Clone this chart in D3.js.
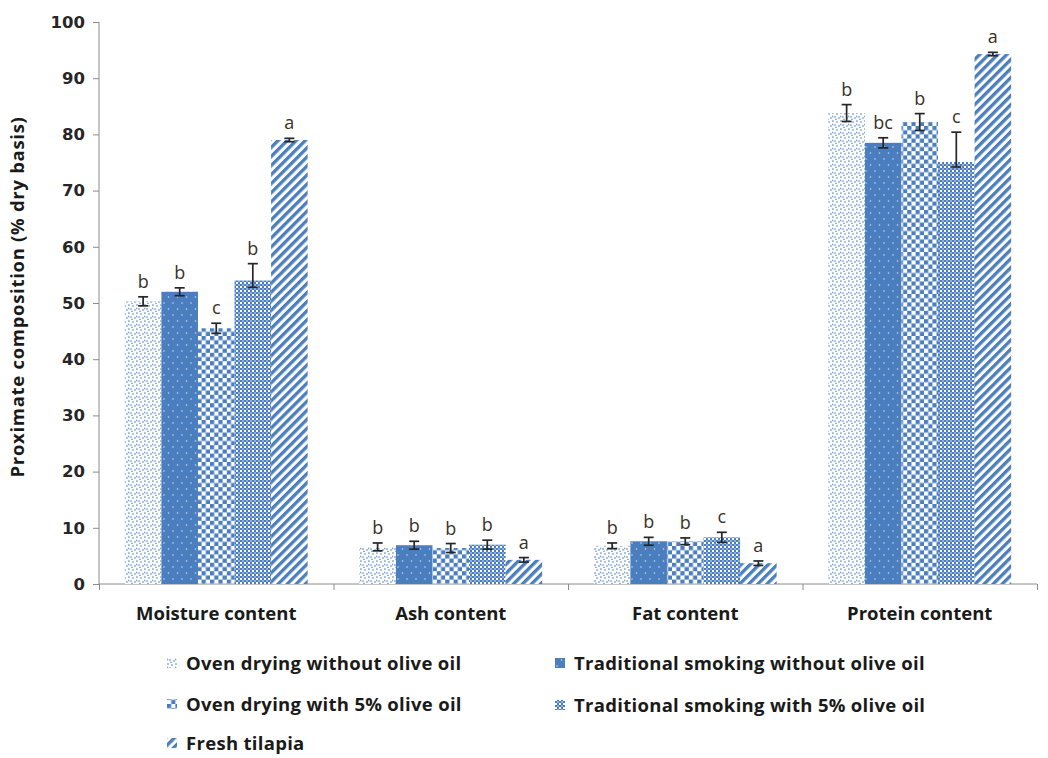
<!DOCTYPE html>
<html>
<head>
<meta charset="utf-8">
<script src="https://cdn.jsdelivr.net/npm/d3@7"></script>
<style>
  html, body { margin: 0; padding: 0; background: #fff; }
  svg { display: block; }
</style>
</head>
<body>
<svg id="chart" width="1048" height="758"></svg>
<script>
// Proximate composition of tilapia by processing method
const categories = ["Moisture content", "Ash content", "Fat content", "Protein content"];
const seriesNames = [
  "Oven drying without olive oil",
  "Traditional smoking without olive oil",
  "Oven drying with 5% olive oil",
  "Traditional smoking with 5% olive oil",
  "Fresh tilapia"
];
const ovenNoOil  = [50.3, 6.6, 6.8, 83.8];
const smokeNoOil = [52.0, 6.9, 7.6, 78.5];
const ovenOil    = [45.5, 6.4, 7.6, 82.2];
const smokeOil   = [54.0, 7.0, 8.3, 75.1];
const fresh      = [79.0, 4.3, 3.7, 94.3];

// error bar extents (above / below the mean)
const errUp = [
  [0.8, 0.7, 0.5, 1.5],
  [0.7, 0.7, 0.7, 0.9],
  [0.9, 0.8, 0.6, 1.5],
  [3.0, 0.8, 0.9, 5.3],
  [0.3, 0.4, 0.4, 0.3]
];
const errDown = [
  [0.8, 0.7, 0.5, 1.5],
  [0.7, 0.7, 0.7, 0.9],
  [0.9, 0.8, 0.6, 1.5],
  [1.2, 0.8, 0.9, 0.9],
  [0.3, 0.4, 0.4, 0.3]
];
// significance letters
const letters = [
  ["b", "b", "b", "b"],
  ["b", "b", "b", "bc"],
  ["c", "b", "b", "b"],
  ["b", "b", "c", "c"],
  ["a", "a", "a", "a"]
];
const yTicks = [0, 10, 20, 30, 40, 50, 60, 70, 80, 90, 100];
const yTitle = "Proximate composition (% dry basis)";

const seriesValues = [ovenNoOil, smokeNoOil, ovenOil, smokeOil, fresh];
const blue = "#4a7ebf";

const svg = d3.select("#chart");
const plot = { left: 99, right: 1037, top: 22, bottom: 584 };

const x0 = d3.scaleBand().domain(categories).range([plot.left, plot.right]).padding(0);
const step = x0.bandwidth();
const gap = step * 0.2205;
const x1 = d3.scaleBand().domain(d3.range(seriesNames.length)).range([gap / 2, step - gap / 2]).padding(0);
const y = d3.scaleLinear().domain([0, 100]).range([plot.bottom, plot.top]);

// ---- fill patterns ----
const defs = svg.append("defs");

// light scattered dots
const p0 = defs.append("pattern").attr("id", "pat0").attr("patternUnits", "userSpaceOnUse")
  .attr("width", 8).attr("height", 8);
p0.append("rect").attr("width", 8).attr("height", 8).attr("fill", "#fff");
[[1, 1], [5, 2], [3, 5], [7, 6], [0.5, 4.5], [4, 7.5]].forEach(([cx, cy]) =>
  p0.append("circle").attr("cx", cx).attr("cy", cy).attr("r", 0.9).attr("fill", "#86a8d8"));

// solid blue with sparse white dots
const p1 = defs.append("pattern").attr("id", "pat1").attr("patternUnits", "userSpaceOnUse")
  .attr("width", 9).attr("height", 12);
p1.append("rect").attr("width", 9).attr("height", 12).attr("fill", blue);
[[2, 3], [6.5, 9]].forEach(([cx, cy]) =>
  p1.append("circle").attr("cx", cx).attr("cy", cy).attr("r", 0.8).attr("fill", "#c9d8ef"));

// large checkerboard
const p2 = defs.append("pattern").attr("id", "pat2").attr("patternUnits", "userSpaceOnUse")
  .attr("width", 8.4).attr("height", 8.4);
p2.append("rect").attr("width", 8.4).attr("height", 8.4).attr("fill", "#fff");
p2.append("rect").attr("x", 0).attr("y", 0).attr("width", 4.2).attr("height", 4.2).attr("fill", blue);
p2.append("rect").attr("x", 4.2).attr("y", 4.2).attr("width", 4.2).attr("height", 4.2).attr("fill", blue);

// fine checkerboard
const p3 = defs.append("pattern").attr("id", "pat3").attr("patternUnits", "userSpaceOnUse")
  .attr("width", 4).attr("height", 4);
p3.append("rect").attr("width", 4).attr("height", 4).attr("fill", "#fff");
p3.append("rect").attr("x", 0).attr("y", 0).attr("width", 2).attr("height", 2).attr("fill", blue);
p3.append("rect").attr("x", 2).attr("y", 2).attr("width", 2).attr("height", 2).attr("fill", blue);
p3.append("rect").attr("x", 2).attr("y", 0).attr("width", 2).attr("height", 2).attr("fill", "#8fb0dd");

// wide upward diagonal stripes
const p4 = defs.append("pattern").attr("id", "pat4").attr("patternUnits", "userSpaceOnUse")
  .attr("width", 6.4).attr("height", 10).attr("patternTransform", "rotate(45)");
p4.append("rect").attr("width", 6.4).attr("height", 10).attr("fill", "#fff");
p4.append("rect").attr("width", 3.3).attr("height", 10).attr("fill", blue);

const fills = ["url(#pat0)", "url(#pat1)", "url(#pat2)", "url(#pat3)", "url(#pat4)"];

// ---- axes ----
const axisColor = "#8c8c8c";
const yAxis = svg.append("g").attr("transform", `translate(${plot.left},0)`)
  .call(d3.axisLeft(y).tickValues(yTicks).tickSize(6).tickPadding(8).tickFormat(d3.format("d")));
yAxis.select(".domain").attr("stroke", axisColor).attr("d", `M0,${plot.top}V${plot.bottom}`);
yAxis.selectAll(".tick line").attr("stroke", axisColor);
yAxis.selectAll(".tick text")
  .attr("font-family", "DejaVu Sans").attr("font-weight", "bold").attr("font-size", 16.5)
  .attr("fill", "#262626");

// category boundary ticks on the x axis
const xb = d3.scaleLinear().domain([0, categories.length]).range([plot.left, plot.right]);
const xAxis = svg.append("g").attr("transform", `translate(0,${plot.bottom})`)
  .call(d3.axisBottom(xb).ticks(categories.length).tickSize(6).tickFormat(""));
xAxis.select(".domain").attr("stroke", axisColor).attr("d", `M${plot.left},0H${plot.right}`);
xAxis.selectAll(".tick line").attr("stroke", axisColor);

svg.append("g").selectAll("text").data(categories).join("text")
  .attr("x", d => x0(d) + step / 2)
  .attr("y", 620)
  .attr("text-anchor", "middle")
  .attr("font-family", "Open Sans").attr("font-weight", "bold").attr("font-size", 18.5)
  .attr("fill", "#1a1a1a")
  .text(d => d);

// y axis title
svg.append("text")
  .attr("transform", `translate(24,297) rotate(-90)`)
  .attr("text-anchor", "middle")
  .attr("font-family", "Open Sans").attr("font-weight", "bold").attr("font-size", 18.5)
  .attr("letter-spacing", 0.7)
  .attr("fill", "#1a1a1a")
  .text(yTitle);

// ---- bars, error bars and letters ----
const bars = [];
seriesValues.forEach((vals, s) => {
  vals.forEach((v, c) => {
    bars.push({ s, c, v, up: errUp[s][c], down: errDown[s][c], letter: letters[s][c] });
  });
});

const bx = d => x0(categories[d.c]) + x1(d.s);
const bw = x1.bandwidth();

svg.append("g").selectAll("rect").data(bars).join("rect")
  .attr("x", bx)
  .attr("y", d => y(d.v))
  .attr("width", bw)
  .attr("height", d => y(0) - y(d.v))
  .attr("fill", d => fills[d.s]);

const eb = svg.append("g").attr("stroke", "#262626").attr("stroke-width", 1.7);
bars.forEach(d => {
  const cx = bx(d) + bw / 2;
  const yt = y(d.v + d.up), yb = y(d.v - d.down);
  eb.append("line").attr("x1", cx).attr("x2", cx).attr("y1", yt).attr("y2", yb);
  eb.append("line").attr("x1", cx - 5).attr("x2", cx + 5).attr("y1", yt).attr("y2", yt);
  eb.append("line").attr("x1", cx - 5).attr("x2", cx + 5).attr("y1", yb).attr("y2", yb);
});

svg.append("g").selectAll("text").data(bars).join("text")
  .attr("x", d => bx(d) + bw / 2)
  .attr("y", d => y(d.v + d.up) - 9)
  .attr("text-anchor", "middle")
  .attr("font-family", "Open Sans").attr("font-size", 18)
  .attr("fill", "#3b3128")
  .text(d => d.letter);

// ---- legend ----
const legendPos = [
  { x: 167, y: 663 }, { x: 555, y: 663 },
  { x: 167, y: 704 }, { x: 555, y: 705 },
  { x: 167, y: 743 }
];
const lg = svg.append("g").selectAll("g").data(seriesNames).join("g")
  .attr("transform", (d, i) => `translate(${legendPos[i].x},${legendPos[i].y})`);
lg.append("rect").attr("x", 0).attr("y", -5).attr("width", 10).attr("height", 10)
  .attr("fill", (d, i) => fills[i]);
lg.append("text").attr("x", 19).attr("y", 6.5)
  .attr("font-family", "Open Sans").attr("font-weight", "bold").attr("font-size", 18.5)
  .attr("letter-spacing", 0.3)
  .attr("fill", "#1a1a1a")
  .text(d => d);
</script>
</body>
</html>
